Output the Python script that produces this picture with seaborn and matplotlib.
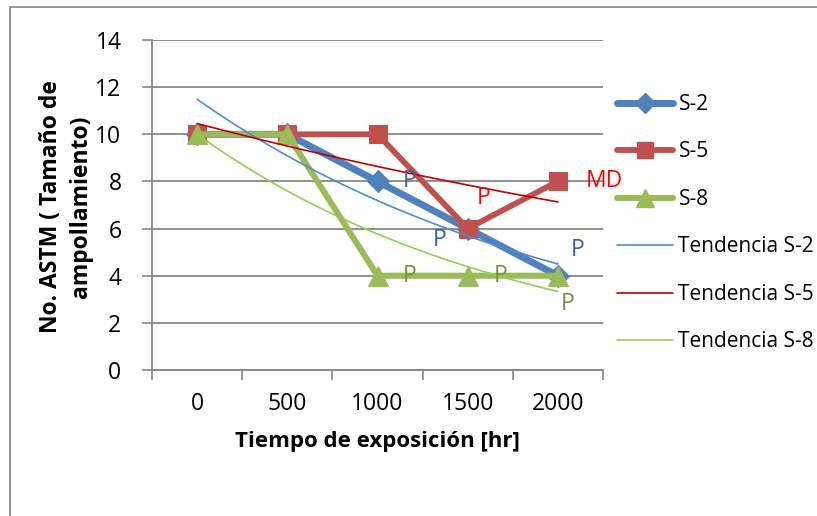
import numpy as np
import pandas as pd
import matplotlib
matplotlib.use("Agg")
import matplotlib.pyplot as plt
from matplotlib.lines import Line2D
import seaborn as sns

# Exposure times (categorical x axis) and ASTM blister-size numbers
hours = ["0", "500", "1000", "1500", "2000"]
s2 = [10, 10, 8, 6, 4]
s5 = [10, 10, 10, 6, 8]
s8 = [10, 10, 4, 4, 4]

# Point annotations (blister frequency: P = poca, MD = media densa)
s2_notes = ["", "", "P", "P", "P"]
s5_notes = ["", "", "", "P", "MD"]
s8_notes = ["", "", "P", "P", "P"]

y_ticks = [0, 2, 4, 6, 8, 10, 12, 14]

sns.set_theme(style="white")
plt.rcParams["font.family"] = ["Open Sans", "DejaVu Sans"]
plt.rcParams["text.color"] = "black"
plt.rcParams["xtick.labelcolor"] = "black"
plt.rcParams["ytick.labelcolor"] = "black"

FS = 15
TICK_FS = 16.5
GRID = "#868686"

fig = plt.figure(figsize=(8.17, 5.16), dpi=100)
ax = fig.add_axes([152 / 817, 1 - 370 / 516, 451 / 817, 330 / 516])

pos = np.arange(len(hours))

series = [
    ("S-2", s2, s2_notes, "#4F81BD", "D", 11, 5.0, "#3C629A",
     [(0, 0), (0, 0), (32, 0), (-28, -11), (20, 26)]),
    ("S-5", s5, s5_notes, "#C0504D", "s", 13, 4.2, "#FF0000",
     [(0, 0), (0, 0), (0, 0), (16, 31), (28, 0)]),
    ("S-8", s8, s8_notes, "#9BBB59", "^", 14, 4.4, "#76923C",
     [(0, 0), (0, 0), (32, 0), (33, 0), (10, -28)]),
]

for name, vals, notes, col, mk, ms, lw, tcol, offs in series:
    df = pd.DataFrame({"pos": pos, "val": vals})
    sns.lineplot(data=df, x="pos", y="val", ax=ax, color=col, marker=mk,
                 markersize=ms, markeredgecolor=col, linewidth=lw,
                 label=name, zorder=3, legend=False)

# Exponential trend lines (least-squares fit on log values, as in Excel)
trend_cols = {"S-2": "#4F8AD6", "S-5": "#C00000", "S-8": "#92D050"}
for name, vals, *_ in series:
    xk = pos + 1
    b, a = np.polyfit(xk, np.log(vals), 1)
    xf = np.linspace(xk[0], xk[-1], 100)
    tdf = pd.DataFrame({"pos": xf - 1, "val": np.exp(a + b * xf)})
    sns.lineplot(data=tdf, x="pos", y="val", ax=ax, color=trend_cols[name],
                 linewidth=1.2, zorder=4, legend=False)

# Point labels
for name, vals, notes, col, mk, ms, lw, tcol, offs in series:
    for i, (v, t) in enumerate(zip(vals, notes)):
        if t:
            dx, dy = offs[i]
            ax.annotate(t, (pos[i], v), xytext=(dx, dy),
                        textcoords="offset pixels", color=tcol,
                        fontsize=TICK_FS, ha="left" if t == "MD" else "center",
                        va="center", zorder=6)

ax.set_xlim(-0.5, len(hours) - 0.5)
ax.set_ylim(0, 14)
ax.set_yticks(y_ticks)
ax.set_yticklabels([str(t) for t in y_ticks], fontsize=TICK_FS)
ax.set_xticks(np.arange(-0.5, len(hours)), labels=[""] * (len(hours) + 1))
ax.set_xticks(pos, labels=hours, minor=True)
ax.tick_params(axis="x", which="major", length=7, width=1.2, color=GRID,
               direction="out", bottom=True)
ax.tick_params(axis="x", which="minor", length=0, pad=16, labelsize=TICK_FS,
               labelcolor="black")
ax.tick_params(axis="y", length=7, width=1.2, color=GRID, direction="out",
               left=True, pad=15, labelcolor="black")
ax.grid(axis="y", color=GRID, linewidth=1.3)
ax.set_axisbelow(True)
for side in ("top", "right"):
    ax.spines[side].set_visible(False)
for side in ("left", "bottom"):
    ax.spines[side].set_color(GRID)
    ax.spines[side].set_linewidth(1.3)
ax.set_xlabel("")
ax.set_ylabel("")

# Axis titles
fig.text(377 / 817, 1 - 441 / 516, "Tiempo de exposición [hr]",
         fontsize=16, fontweight="bold", ha="center", va="center",
         color="black")
fig.text(66 / 817, 1 - 207 / 516, "No. ASTM ( Tamaño de\nampollamiento)",
         fontsize=16.5, fontweight="bold", ha="center", va="center",
         rotation=90, multialignment="center", linespacing=1.3,
         color="black")

# Legend
handles = [
    Line2D([], [], color="#4F81BD", lw=5.0, marker="D", ms=10),
    Line2D([], [], color="#C0504D", lw=4.2, marker="s", ms=12),
    Line2D([], [], color="#9BBB59", lw=4.4, marker="^", ms=13),
    Line2D([], [], color=trend_cols["S-2"], lw=1.2),
    Line2D([], [], color=trend_cols["S-5"], lw=1.2),
    Line2D([], [], color=trend_cols["S-8"], lw=1.2),
]
labels = ["S-2", "S-5", "S-8", "Tendencia S-2", "Tendencia S-5",
          "Tendencia S-8"]
leg = fig.legend(handles, labels, loc="upper left",
                 bbox_to_anchor=(617 / 817, 1 - 94 / 516), frameon=False,
                 fontsize=FS, handlelength=2.7, handletextpad=0.25,
                 labelspacing=1.27, borderpad=0, borderaxespad=0, numpoints=1)
for txt in leg.get_texts():
    txt.set_color("black")

# Chart area border
fig.add_artist(Line2D([10 / 817, 10 / 817, 1.0], [0.0, 1 - 7 / 516, 1 - 7 / 516],
                      transform=fig.transFigure, color="#8C8C8C", lw=1.3))

fig.savefig("out.png", dpi=100)
